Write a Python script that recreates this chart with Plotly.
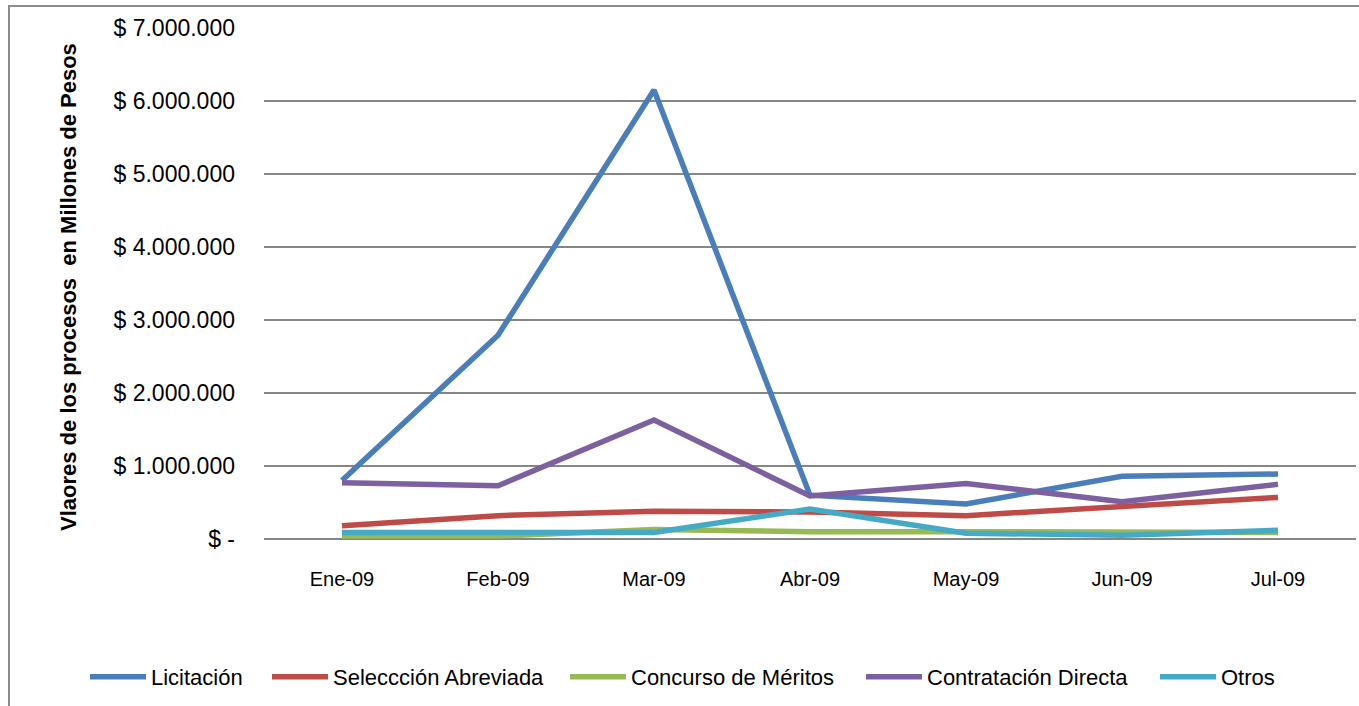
import plotly.graph_objects as go

months = ["Ene-09", "Feb-09", "Mar-09", "Abr-09", "May-09", "Jun-09", "Jul-09"]
licitacion = [800000, 2790000, 6150000, 600000, 480000, 860000, 890000]
seleccion = [180000, 320000, 380000, 370000, 320000, 440000, 570000]
concurso = [40000, 40000, 130000, 100000, 100000, 100000, 90000]
contratacion = [770000, 730000, 1630000, 590000, 760000, 510000, 750000]
otros = [90000, 90000, 90000, 410000, 80000, 50000, 120000]

series_names = ["Licitación", "Seleccción Abreviada", "Concurso de Méritos", "Contratación Directa", "Otros"]
series_values = [licitacion, seleccion, concurso, contratacion, otros]
colors = ["#4A7EBB", "#BE4B48", "#98B954", "#7D60A0", "#46AAC5"]

y_tickvals = [0, 1000000, 2000000, 3000000, 4000000, 5000000, 6000000, 7000000]
y_ticktext = ["$ -", "$ 1.000.000", "$ 2.000.000", "$ 3.000.000", "$ 4.000.000",
              "$ 5.000.000", "$ 6.000.000", "$ 7.000.000"]

FONT = "Liberation Sans, Arial, sans-serif"
PLOT_L, PLOT_W = 264, 1092
legend_px = [90, 272, 570, 866, 1160]  # left pixel of each legend sample
LEG_PAD = 5

fig = go.Figure()
legend_layouts = {}
for i, (name, vals, col) in enumerate(zip(series_names, series_values, colors)):
    lname = "legend" if i == 0 else f"legend{i + 1}"
    fig.add_trace(go.Scatter(x=months, y=vals, mode="lines", name=name,
                             legend=lname, line=dict(color=col, width=5.5)))
    legend_layouts[lname] = dict(orientation="h",
                                 x=(legend_px[i] - LEG_PAD - PLOT_L) / PLOT_W,
                                 xanchor="left", y=-0.27, yanchor="middle",
                                 font=dict(size=22, family=FONT), itemwidth=56,
                                 bgcolor="rgba(0,0,0,0)")

fig.update_layout(
    width=1359, height=706,
    margin=dict(l=264, r=3, t=28, b=167, autoexpand=False),
    plot_bgcolor="white", paper_bgcolor="white",
    font=dict(family=FONT, color="black"),
    showlegend=True,
    xaxis=dict(type="category", range=[-0.5, 6.5], showgrid=False, showline=False,
               ticks="", tickfont=dict(size=20, family=FONT), ticklabelstandoff=26),
    yaxis=dict(range=[0, 7000000], tickvals=y_tickvals, ticktext=y_ticktext,
               showgrid=True, gridcolor="#868686", gridwidth=2, zeroline=True,
               zerolinecolor="#868686", zerolinewidth=2, showline=False,
               tickfont=dict(size=23, family=FONT), ticks="", ticklabelstandoff=28),
    shapes=[dict(type="rect", xref="paper", yref="paper",
                 x0=(9 - 264) / 1092, x1=(1365 - 264) / 1092,
                 y0=(539 - 712) / 511, y1=(539 - 6) / 511,
                 line=dict(color="#8C8C8C", width=2), layer="below")],
    annotations=[dict(text="<b>Vlaores de los procesos  en Millones de Pesos</b>",
                      xref="paper", yref="paper", x=(68 - 264) / 1092,
                      y=(539 - 287) / 511, textangle=-90, showarrow=False,
                      xanchor="center", yanchor="middle",
                      font=dict(size=22, family=FONT))],
    **legend_layouts,
)

fig.write_html("out.html", config={"displayModeBar": False},
               post_script="document.body.style.margin='0px';document.body.style.overflow='hidden';")
